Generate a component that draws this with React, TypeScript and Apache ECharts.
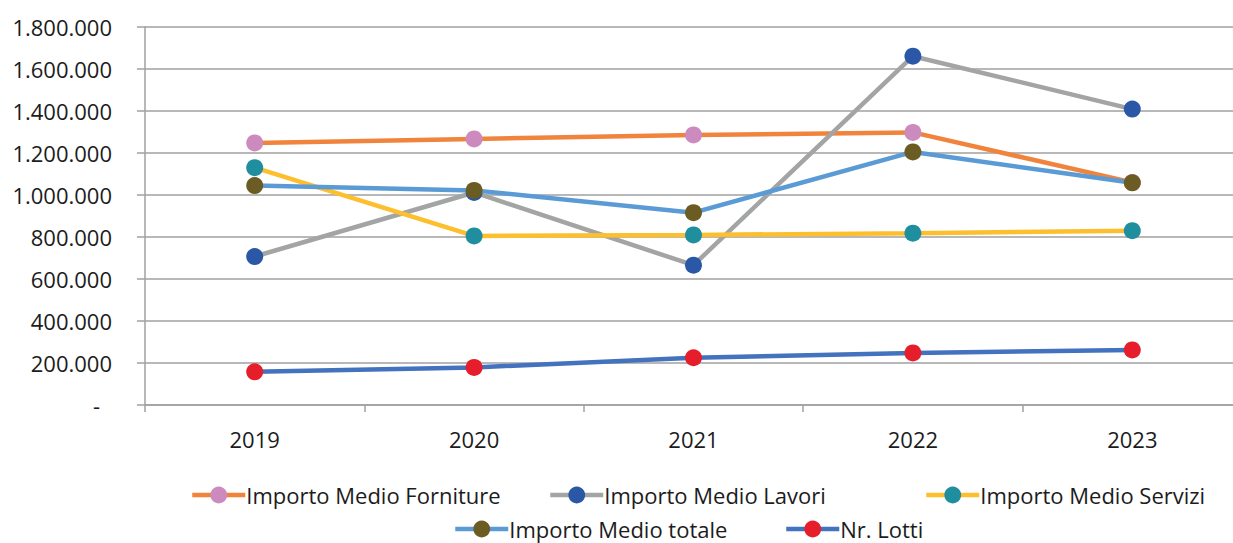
import React, { useEffect, useRef } from "react";
import * as echarts from "echarts";

const years = ["2019", "2020", "2021", "2022", "2023"];
const forniture = [1248000, 1267000, 1286000, 1298000, 1060000];
const lavori = [707000, 1012000, 666000, 1661000, 1409000];
const servizi = [1130000, 805000, 810000, 818000, 830000];
const totale = [1045000, 1022000, 916000, 1205000, 1058000];
const lotti = [158000, 179000, 225000, 248000, 262000];

const seriesNames = [
  "Importo Medio Forniture",
  "Importo Medio Lavori",
  "Importo Medio Servizi",
  "Importo Medio totale",
  "Nr. Lotti",
];
const lineColors = ["#F0843C", "#A3A5A5", "#FDBF2D", "#5B9BD5", "#4372BE"];
const markerColors = ["#CD8ABF", "#2A58A6", "#1F8FA0", "#6A5C22", "#E61E2B"];
const seriesData = [forniture, lavori, servizi, totale, lotti];

const legendPos = [
  { left: 190, top: 484 },
  { left: 548, top: 484 },
  { left: 924, top: 484 },
  { left: 453, top: 518 },
  { left: 784, top: 518 },
];

const FONT = "Open Sans";

function fmt(v: number): string {
  if (v === 0) return "{d|-}";
  return String(Math.round(v)).replace(/\B(?=(\d{3})+(?!\d))/g, ".");
}

export default function App() {
  const ref = useRef<HTMLDivElement>(null);
  useEffect(() => {
    if (!ref.current) return;
    const chart = echarts.init(ref.current, undefined, { renderer: "svg" });
    chart.setOption({
      animation: false,
      backgroundColor: "#ffffff",
      textStyle: { fontFamily: FONT },
      grid: { left: 145, right: 8, top: 27, bottom: 138, containLabel: false },
      xAxis: {
        type: "category",
        data: years,
        boundaryGap: true,
        axisLine: { lineStyle: { color: "#A0A0A0", width: 1.5 } },
        axisTick: { show: true, length: 7, lineStyle: { color: "#A0A0A0", width: 1.5 } },
        axisLabel: { color: "#1c1c1c", fontSize: 22, fontFamily: FONT, margin: 23 },
        splitLine: { show: false },
      },
      yAxis: {
        type: "value",
        min: 0,
        max: 1800000,
        interval: 200000,
        axisLine: { show: true, lineStyle: { color: "#A0A0A0", width: 1.5 } },
        axisTick: { show: true, length: 8, lineStyle: { color: "#A0A0A0", width: 1.5 } },
        splitLine: { show: true, lineStyle: { color: "#A0A0A0", width: 1.5 } },
        axisLabel: {
          color: "#1c1c1c",
          fontSize: 22,
          fontFamily: FONT,
          margin: 33,
          formatter: fmt,
          rich: { d: { fontSize: 22, fontFamily: FONT, color: "#1c1c1c", padding: [0, 12, 0, 0] } },
        },
      },
      legend: seriesNames.map((n, i) => ({
        data: [n],
        left: legendPos[i].left,
        top: legendPos[i].top,
        padding: 0,
        itemWidth: 53,
        itemHeight: 21,
        itemGap: 0,
        lineStyle: { width: 4.5 },
        textStyle: { color: "#1c1c1c", fontSize: 22, fontFamily: FONT, padding: [0, 0, 0, -4] },
        selectedMode: false,
      })),
      series: seriesNames.map((n, i) => ({
        name: n,
        type: "line",
        data: seriesData[i],
        symbol: "circle",
        symbolSize: 17,
        lineStyle: { color: lineColors[i], width: 4.5 },
        itemStyle: { color: markerColors[i] },
        z: 2 + i,
      })),
    });
    return () => chart.dispose();
  }, []);
  return (
    <div
      ref={ref}
      style={{ position: "fixed", left: 0, top: 0, width: 1250, height: 543 }}
    />
  );
}
